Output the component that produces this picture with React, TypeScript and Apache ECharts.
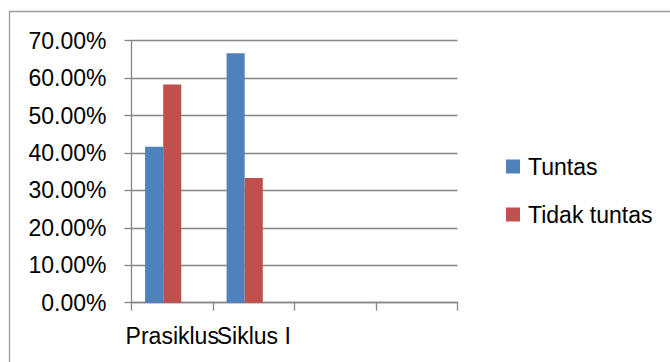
import React, { useEffect, useRef } from "react";
import * as echarts from "echarts";

// Categories on the x axis (the last two slots are empty)
const categories: string[] = ["Prasiklus", "Siklus I", "", ""];

// Share of students per category
const tuntas: (number | null)[] = [0.4167, 0.6667, null, null];
const tidakTuntas: (number | null)[] = [0.5833, 0.3333, null, null];
// Third series slot kept empty, as in the source workbook
const kosong: (number | null)[] = [null, null, null, null];

const seriesNames: string[] = ["Tuntas", "Tidak tuntas"];

const FONT = "'Liberation Sans', Arial, sans-serif";

export default function App() {
  const ref = useRef<HTMLDivElement>(null);

  useEffect(() => {
    if (!ref.current) return;
    const chart = echarts.init(ref.current, null, { renderer: "svg" });
    chart.setOption({
      animation: false,
      backgroundColor: "#ffffff",
      textStyle: { fontFamily: FONT },
      graphic: [
        {
          type: "rect",
          shape: { x: 9.5, y: 11.5, width: 700, height: 400 },
          style: { fill: "none", stroke: "#9a9a9a", lineWidth: 1.3 },
          silent: true,
        },
      ],
      grid: {
        left: 131.5,
        right: 212.5,
        top: 40.7,
        bottom: 59.3,
        containLabel: false,
      },
      legend: {
        orient: "vertical",
        left: 501,
        top: 150,
        itemWidth: 14,
        itemHeight: 14,
        itemGap: 25,
        icon: "rect",
        data: seriesNames,
        textStyle: {
          fontFamily: FONT,
          fontSize: 23,
          color: "#000000",
          padding: [0, 0, 0, 3],
        },
      },
      xAxis: {
        type: "category",
        data: categories,
        boundaryGap: true,
        axisLine: { show: true, lineStyle: { color: "#868686", width: 1.3 } },
        axisTick: {
          show: true,
          length: 8,
          alignWithLabel: false,
          interval: 0,
          lineStyle: { color: "#868686", width: 1.3 },
        },
        axisLabel: {
          interval: 0,
          hideOverlap: false,
          margin: 22,
          fontFamily: FONT,
          fontSize: 23,
          color: "#000000",
        },
        splitLine: { show: false },
      },
      yAxis: {
        type: "value",
        min: 0,
        max: 0.7,
        interval: 0.1,
        axisLine: { show: true, lineStyle: { color: "#868686", width: 1.3 } },
        axisTick: {
          show: true,
          length: 7,
          lineStyle: { color: "#868686", width: 1.3 },
        },
        axisLabel: {
          margin: 25,
          fontFamily: FONT,
          fontSize: 23,
          color: "#000000",
          formatter: (v: number) => (v * 100).toFixed(2) + "%",
        },
        splitLine: { show: true, lineStyle: { color: "#868686", width: 1.3 } },
      },
      series: [
        {
          name: seriesNames[0],
          type: "bar",
          data: tuntas,
          barGap: "0%",
          barCategoryGap: "33.33%",
          itemStyle: { color: "#4F81BD" },
        },
        {
          name: seriesNames[1],
          type: "bar",
          data: tidakTuntas,
          barGap: "0%",
          barCategoryGap: "33.33%",
          itemStyle: { color: "#C0504D" },
        },
        {
          name: "",
          type: "bar",
          data: kosong,
          barGap: "0%",
          barCategoryGap: "33.33%",
          itemStyle: { color: "#9BBB59" },
        },
      ],
    });
    return () => chart.dispose();
  }, []);

  return (
    <div
      ref={ref}
      style={{ position: "fixed", left: 0, top: 0, width: 670, height: 362 }}
    />
  );
}
